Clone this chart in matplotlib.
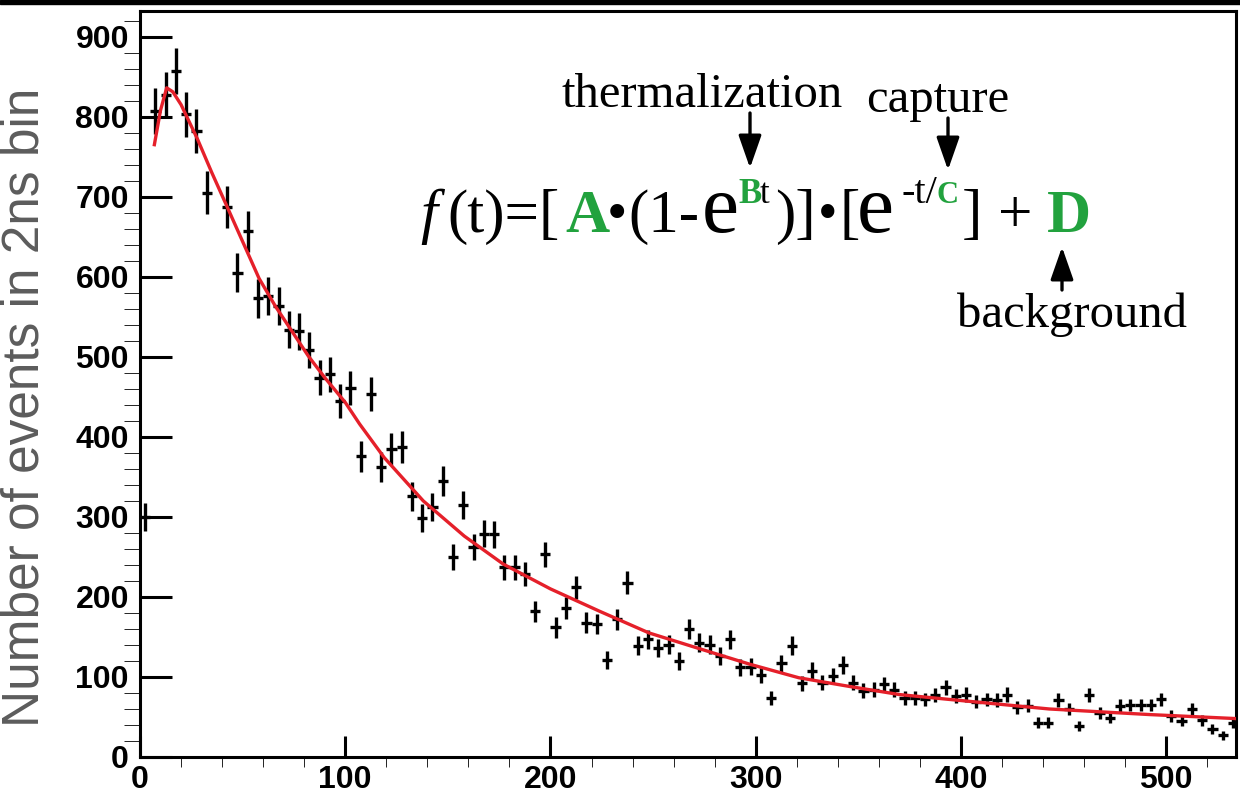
import numpy as np
import matplotlib
matplotlib.use('Agg')
import matplotlib.pyplot as plt
from matplotlib.ticker import MultipleLocator
from matplotlib.patches import Rectangle, FancyArrowPatch

plt.rcParams['font.family'] = ['Liberation Sans', 'DejaVu Sans']

# histogram: counts per bin, bin centres every 5 (one bin not shown)
t_bins = np.arange(2.5, 535, 5)
counts = [300, 807, 827, 857, 803, 782, 705, np.nan, 687, 605,
          657, 573, 576, 564, 534, 532, 508, 474, 478, 445,
          461, 376, 454, 362, 385, 387, 326, 299, 312, 345,
          250, 315, 262, 279, 278, 237, 237, 229, 182, 253,
          162, 186, 212, 168, 166, 121, 172, 218, 139, 147,
          136, 140, 120, 160, 143, 140, 126, 147, 112, 113,
          102, 74, 117, 139, 92, 108, 93, 101, 115, 93,
          83, 84, 91, 84, 74, 74, 72, 77, 87, 76,
          78, 69, 72, 71, 78, 62, 64, 43, 43, 71,
          60, 39, 77, 55, 49, 64, 65, 65, 65, 72,
          51, 45, 60, 46, 35, 27, 43]
counts = np.array(counts, dtype=float)
bin_half = 2.5

# fitted curve
fit_t = [7, 10, 13, 16, 20, 28, 35, 42, 50, 58, 66, 74, 82, 90, 100, 107,
         119, 138, 158, 177, 200, 224, 248, 273, 297, 321, 346, 370, 394,
         443, 492, 534]
fit_y = [765, 808, 836, 831, 815, 772, 730, 690, 644, 598, 563, 532, 501,
         474, 443, 416, 374, 320, 276, 241, 210, 182, 155, 135, 116, 99,
         88, 78, 72, 60, 53, 48]

W, H = 1240, 795
fig = plt.figure(figsize=(W/100, H/100), dpi=100)
ax = fig.add_axes([140/W, 1-757/H, (1236-140)/W, (757-11)/H])

ax.errorbar(t_bins, counts, yerr=np.sqrt(counts), xerr=bin_half, fmt='none',
            ecolor='black', elinewidth=2.4, capsize=0, zorder=2)
ax.plot(fit_t, fit_y, color='#e5202a', lw=2.4, zorder=3)

ax.set_xlim(0, 534)
ax.set_ylim(0, 932)
ax.xaxis.set_major_locator(MultipleLocator(100))
ax.xaxis.set_minor_locator(MultipleLocator(20))
ax.yaxis.set_major_locator(MultipleLocator(100))
ax.yaxis.set_minor_locator(MultipleLocator(20))
ax.tick_params(direction='in', width=2.2, labelsize=23, top=False, right=False)
ax.tick_params(axis='y', which='major', length=23, pad=8)
ax.tick_params(axis='y', which='minor', length=11.5)
ax.tick_params(axis='x', which='major', length=15, pad=6)
ax.tick_params(axis='x', which='minor', length=7.2)
for lab in ax.get_xticklabels() + ax.get_yticklabels():
    lab.set_fontweight('bold')
for sp in ax.spines.values():
    sp.set_linewidth(2.2)

fig.text(25/W, 1-407.5/H, 'Number of events in 2ns bin', rotation=90,
         ha='center', va='center', fontsize=37, color='#5c5c5c')

# black band along the top edge
fig.add_artist(Rectangle((0, 1-4/H), 1, 4/H, transform=fig.transFigure,
                         color='black', zorder=5))

# formula pieces: text, x (px), horizontal anchor, size, props, rise (px)
green = '#22a23e'
serif = 'Liberation Serif'
M, E, S = 44, 60, 25
pieces = [
    ('f', 420, 'left', M, dict(style='italic'), 0),
    ('(t)=[', 447, 'left', M, {}, 0),
    ('A', 565, 'left', M, dict(weight='bold', color=green), 0),
    ('\u2022', 607, 'left', 42, {}, 2),
    ('(1-', 628, 'left', M, {}, 0),
    ('e', 702, 'left', E, {}, 0),
    ('B', 738, 'left', S, dict(weight='bold', color=green), 29),
    ('t', 760, 'left', S, {}, 29),
    (')]', 775, 'left', M, {}, 0),
    ('\u2022', 818, 'left', 40, {}, 2),
    ('[', 839, 'left', M, {}, 0),
    ('e', 857, 'left', E, {}, 0),
    ('-t/', 937, 'right', 29, {}, 29),
    ('C', 937, 'left', 22, dict(weight='bold', color=green), 29),
    (']', 962, 'left', M, {}, 0),
    ('+', 998, 'left', M, {}, 0),
    ('D', 1047, 'left', M, dict(weight='bold', color=green), 0),
]
base = H - 232
for s, x, anchor, size, kw, rise in pieces:
    kw = dict(kw)
    kw.setdefault('color', 'black')
    fig.text(x/W, (base+rise)/H, s, fontsize=size, family=serif,
             ha=anchor, va='baseline', **kw)

fig.text(562/W, 1-107/H, 'thermalization', fontsize=35, family=serif,
         ha='left', va='baseline')
fig.text(866/W, 1-112/H, 'capture', fontsize=35, family=serif,
         ha='left', va='baseline')
fig.text(957/W, 1-327/H, 'background', fontsize=35, family=serif,
         ha='left', va='baseline')

arrows = [((750, 113), (750, 168)), ((948, 118), (948, 170)),
          ((1062, 290), (1062, 247))]
for start, end in arrows:
    fig.add_artist(FancyArrowPatch(
        (start[0], H-start[1]), (end[0], H-end[1]), transform=None,
        arrowstyle='-|>,head_length=1.0,head_width=0.35', mutation_scale=20,
        lw=2.4, color='black', shrinkA=0, shrinkB=0))

fig.savefig('out.png', dpi=100)
